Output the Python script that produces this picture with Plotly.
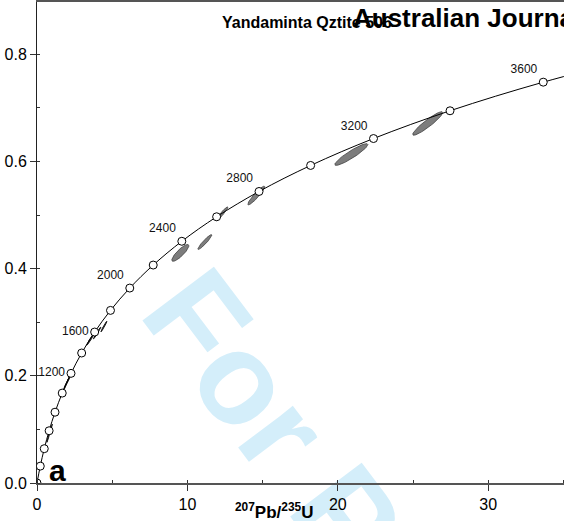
import numpy as np
import plotly.graph_objects as go

# Concordia reference points (every 200 Ma)
conc_age = [0, 200, 400, 600, 800, 1000, 1200, 1400, 1600, 1800, 2000, 2200,
            2400, 2600, 2800, 3000, 3200, 3400, 3600, 3800]
conc_x = [0.0, 0.2177, 0.4828, 0.8056, 1.1988, 1.6774, 2.2604, 2.9700, 3.8345,
          4.8866, 6.1681, 7.7284, 9.6288, 11.9434, 14.7621, 18.1942, 22.3738,
          27.4623, 33.6606, 41.205]
conc_y = [0.0, 0.0315, 0.0640, 0.0975, 0.1321, 0.1678, 0.2046, 0.2426, 0.2817,
          0.3221, 0.3638, 0.4067, 0.4511, 0.4968, 0.5440, 0.5926, 0.6428,
          0.6946, 0.7480, 0.8030]
label_ages = [1200, 1600, 2000, 2400, 2800, 3200, 3600]

# Analyses: 207Pb/235U, 206Pb/238U, extents, correlation
ell_x = [25.98, 20.90, 14.58, 12.29, 11.16, 9.53, 1.95, 2.15, 3.55, 4.00, 4.45, 0.78, 0.92]
ell_y = [0.671, 0.613, 0.5365, 0.5023, 0.4497, 0.4294, 0.185, 0.197, 0.268, 0.280, 0.292, 0.088, 0.100]
ell_sx = [1.00, 1.10, 0.565, 0.40, 0.465, 0.565, 0.20, 0.15, 0.25, 0.25, 0.20, 0.12, 0.10]
ell_sy = [0.022, 0.0203, 0.0175, 0.0129, 0.0139, 0.0157, 0.012, 0.009, 0.011, 0.011, 0.010, 0.012, 0.010]
ell_rho = [0.93, 0.92, 0.93, 0.95, 0.94, 0.85, 0.98, 0.98, 0.98, 0.98, 0.98, 0.98, 0.98]

fig = go.Figure()

t = np.linspace(0, 2 * np.pi, 80)
for cx, cy, sx, sy, r in zip(ell_x, ell_y, ell_sx, ell_sy, ell_rho):
    ex = cx + sx * np.cos(t)
    ey = cy + sy * (r * np.cos(t) + np.sqrt(1 - r * r) * np.sin(t))
    small = sx < 0.3
    fig.add_trace(go.Scatter(
        x=ex, y=ey, mode="lines", fill="toself",
        fillcolor="#333333" if small else "#7d7d7d",
        line=dict(color="#1a1a1a" if small else "#404040", width=1 if small else 0.8),
        hoverinfo="skip", showlegend=False))

fig.add_trace(go.Scatter(
    x=conc_x, y=conc_y, mode="lines", line=dict(color="black", width=1, shape="spline"),
    hoverinfo="skip", showlegend=False))

lab = [str(a) if a in label_ages else "" for a in conc_age]
pos = ["middle left" if a in (1200, 1600) else "top left" for a in conc_age]
fig.add_trace(go.Scatter(
    x=conc_x, y=conc_y, mode="markers+text", text=lab, textposition=pos,
    textfont=dict(family="Liberation Sans", size=12, color="#111"),
    marker=dict(symbol="circle", size=8, color="white", line=dict(color="black", width=1)),
    hoverinfo="skip", showlegend=False, cliponaxis=True))

fig.update_layout(
    width=564, height=521,
    margin=dict(l=37, r=0, t=0, b=38),
    paper_bgcolor="white", plot_bgcolor="rgba(0,0,0,0)",
    font=dict(family="Liberation Sans", color="black"),
    xaxis=dict(range=[0, 35.04], tickvals=[0, 10, 20, 30], ticks="outside", ticklen=6,
               tickcolor="#333", tickfont=dict(size=16), showgrid=False, zeroline=False,
               showline=True, linecolor="#555", linewidth=2, mirror=True,
               minor=dict(dtick=5, ticks="inside", ticklen=3, tickcolor="#333")),
    yaxis=dict(range=[0, 0.8976], dtick=0.2, tickformat=".1f", ticks="outside", ticklen=6,
               tickcolor="#333", tickfont=dict(size=16), showgrid=False, zeroline=False,
               showline=True, linecolor="#222", linewidth=1,
               minor=dict(dtick=0.1, ticks="inside", ticklen=3, tickcolor="#333")),
)

# watermark, drawn beneath the axes and data
fig.add_shape(type="rect", xref="paper", yref="paper", x0=0.853, x1=0.855, y0=-0.417, y1=-0.415,
              line=dict(width=0), fillcolor="rgba(0,0,0,0)", layer="below",
              label=dict(text="<b>For Peer Review</b>", textangle=53, textposition="middle center",
                         font=dict(size=130, color="#d4eefa", family="Liberation Sans")))

ann = [
    dict(text="<b><sup>207</sup>Pb/<sup>235</sup>U</b>", xref="x", yref="paper", x=15.76, y=0,
         yshift=-41, showarrow=False, font=dict(size=17)),
    dict(text="<b>Yandaminta Qztite 506</b>", xref="paper", yref="paper", x=(220 - 37) / 527,
         y=(483 - 21) / 483, xanchor="left", yanchor="middle", showarrow=False,
         font=dict(size=16)),
    dict(text="<b>Australian Journal of Earth Sciences</b>", xref="paper", yref="paper",
         x=(351 - 37) / 527, y=(483 - 16) / 483, xanchor="left", yanchor="middle",
         showarrow=False, font=dict(size=26)),
    dict(text="<b>a</b>", xref="paper", yref="paper", x=(47 - 37) / 527, y=(483 - 470) / 483,
         xanchor="left", yanchor="middle", showarrow=False, font=dict(size=30)),
]
fig.update_layout(annotations=ann)

fig.write_html("out.html")
